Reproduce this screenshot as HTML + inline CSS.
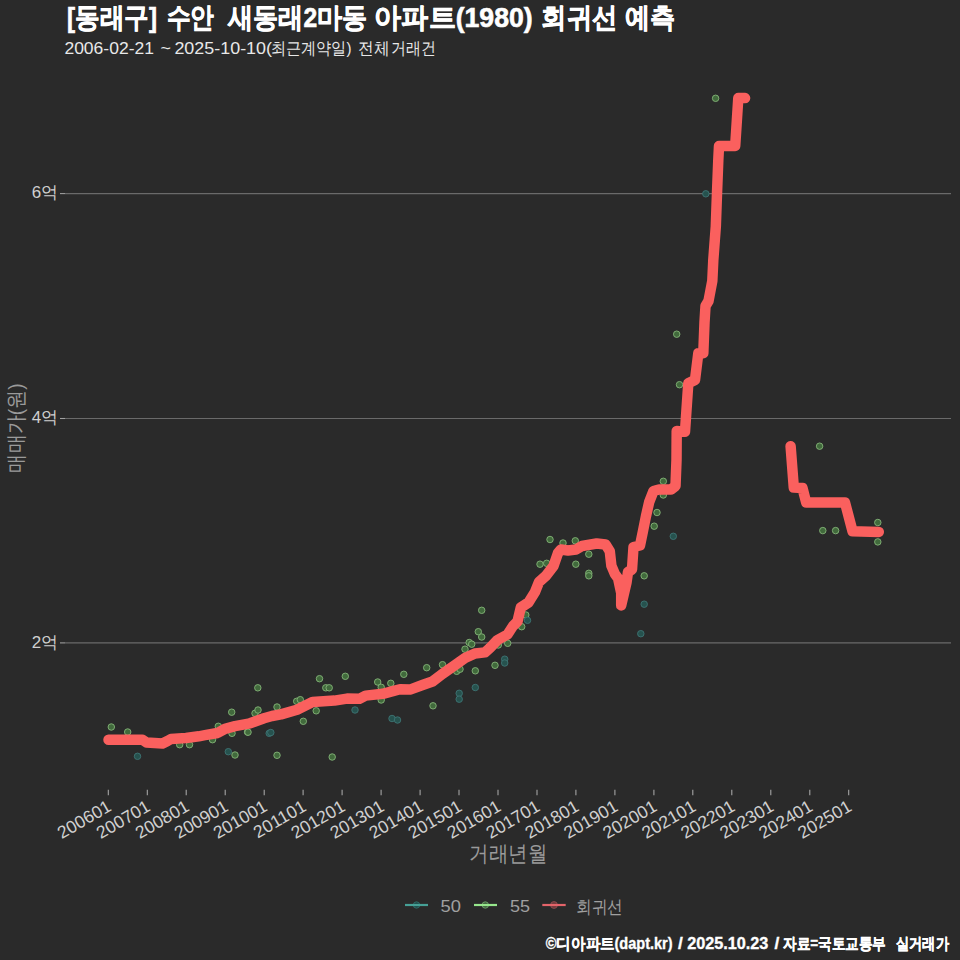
<!DOCTYPE html>
<html><head><meta charset="utf-8"><style>
html,body{margin:0;padding:0;background:#2a2a2a;width:960px;height:960px;overflow:hidden}
svg text{font-family:"Liberation Sans",sans-serif}
</style></head><body>
<svg width="960" height="960" viewBox="0 0 960 960" style="position:absolute;left:0;top:0">
<line x1="65" y1="193.60" x2="951" y2="193.60" stroke="#6a6a6a" stroke-width="1.07"/>
<line x1="60" y1="193.60" x2="65" y2="193.60" stroke="#a0a0a0" stroke-width="1.07"/>
<line x1="65" y1="418.50" x2="951" y2="418.50" stroke="#6a6a6a" stroke-width="1.07"/>
<line x1="60" y1="418.50" x2="65" y2="418.50" stroke="#a0a0a0" stroke-width="1.07"/>
<line x1="65" y1="642.90" x2="951" y2="642.90" stroke="#6a6a6a" stroke-width="1.07"/>
<line x1="60" y1="642.90" x2="65" y2="642.90" stroke="#a0a0a0" stroke-width="1.07"/>
<line x1="108.3" y1="789.7" x2="108.3" y2="795.2" stroke="#a8a8a8" stroke-width="1.07"/>
<line x1="147.3" y1="789.7" x2="147.3" y2="795.2" stroke="#a8a8a8" stroke-width="1.07"/>
<line x1="186.2" y1="789.7" x2="186.2" y2="795.2" stroke="#a8a8a8" stroke-width="1.07"/>
<line x1="225.2" y1="789.7" x2="225.2" y2="795.2" stroke="#a8a8a8" stroke-width="1.07"/>
<line x1="264.2" y1="789.7" x2="264.2" y2="795.2" stroke="#a8a8a8" stroke-width="1.07"/>
<line x1="303.1" y1="789.7" x2="303.1" y2="795.2" stroke="#a8a8a8" stroke-width="1.07"/>
<line x1="342.1" y1="789.7" x2="342.1" y2="795.2" stroke="#a8a8a8" stroke-width="1.07"/>
<line x1="381.1" y1="789.7" x2="381.1" y2="795.2" stroke="#a8a8a8" stroke-width="1.07"/>
<line x1="420.1" y1="789.7" x2="420.1" y2="795.2" stroke="#a8a8a8" stroke-width="1.07"/>
<line x1="459.0" y1="789.7" x2="459.0" y2="795.2" stroke="#a8a8a8" stroke-width="1.07"/>
<line x1="498.0" y1="789.7" x2="498.0" y2="795.2" stroke="#a8a8a8" stroke-width="1.07"/>
<line x1="537.0" y1="789.7" x2="537.0" y2="795.2" stroke="#a8a8a8" stroke-width="1.07"/>
<line x1="575.9" y1="789.7" x2="575.9" y2="795.2" stroke="#a8a8a8" stroke-width="1.07"/>
<line x1="614.9" y1="789.7" x2="614.9" y2="795.2" stroke="#a8a8a8" stroke-width="1.07"/>
<line x1="653.9" y1="789.7" x2="653.9" y2="795.2" stroke="#a8a8a8" stroke-width="1.07"/>
<line x1="692.8" y1="789.7" x2="692.8" y2="795.2" stroke="#a8a8a8" stroke-width="1.07"/>
<line x1="731.8" y1="789.7" x2="731.8" y2="795.2" stroke="#a8a8a8" stroke-width="1.07"/>
<line x1="770.8" y1="789.7" x2="770.8" y2="795.2" stroke="#a8a8a8" stroke-width="1.07"/>
<line x1="809.8" y1="789.7" x2="809.8" y2="795.2" stroke="#a8a8a8" stroke-width="1.07"/>
<line x1="848.7" y1="789.7" x2="848.7" y2="795.2" stroke="#a8a8a8" stroke-width="1.07"/>
<circle cx="111.3" cy="727.0" r="3.25" fill="#416a3c" stroke="#84b478" stroke-width="0.9"/>
<circle cx="127.7" cy="732.0" r="3.25" fill="#416a3c" stroke="#84b478" stroke-width="0.9"/>
<circle cx="137.5" cy="756.3" r="3.25" fill="#26524e" stroke="#3e7474" stroke-width="0.9"/>
<circle cx="179.7" cy="744.7" r="3.25" fill="#416a3c" stroke="#84b478" stroke-width="0.9"/>
<circle cx="189.5" cy="744.7" r="3.25" fill="#416a3c" stroke="#84b478" stroke-width="0.9"/>
<circle cx="212.5" cy="739.7" r="3.25" fill="#416a3c" stroke="#84b478" stroke-width="0.9"/>
<circle cx="218.3" cy="726.3" r="3.25" fill="#416a3c" stroke="#84b478" stroke-width="0.9"/>
<circle cx="231.7" cy="712.2" r="3.25" fill="#416a3c" stroke="#84b478" stroke-width="0.9"/>
<circle cx="232.0" cy="733.3" r="3.25" fill="#416a3c" stroke="#84b478" stroke-width="0.9"/>
<circle cx="228.3" cy="751.7" r="3.25" fill="#26524e" stroke="#3e7474" stroke-width="0.9"/>
<circle cx="235.0" cy="755.0" r="3.25" fill="#416a3c" stroke="#84b478" stroke-width="0.9"/>
<circle cx="247.5" cy="732.0" r="3.25" fill="#416a3c" stroke="#84b478" stroke-width="0.9"/>
<circle cx="257.8" cy="687.8" r="3.25" fill="#416a3c" stroke="#84b478" stroke-width="0.9"/>
<circle cx="248.0" cy="732.2" r="3.25" fill="#416a3c" stroke="#84b478" stroke-width="0.9"/>
<circle cx="255.0" cy="713.3" r="3.25" fill="#416a3c" stroke="#84b478" stroke-width="0.9"/>
<circle cx="258.0" cy="710.0" r="3.25" fill="#416a3c" stroke="#84b478" stroke-width="0.9"/>
<circle cx="269.2" cy="733.3" r="3.25" fill="#26524e" stroke="#3e7474" stroke-width="0.9"/>
<circle cx="270.8" cy="732.5" r="3.25" fill="#26524e" stroke="#3e7474" stroke-width="0.9"/>
<circle cx="277.0" cy="707.0" r="3.25" fill="#416a3c" stroke="#84b478" stroke-width="0.9"/>
<circle cx="277.0" cy="755.3" r="3.25" fill="#416a3c" stroke="#84b478" stroke-width="0.9"/>
<circle cx="296.7" cy="701.3" r="3.25" fill="#416a3c" stroke="#84b478" stroke-width="0.9"/>
<circle cx="300.3" cy="699.7" r="3.25" fill="#416a3c" stroke="#84b478" stroke-width="0.9"/>
<circle cx="303.3" cy="721.3" r="3.25" fill="#416a3c" stroke="#84b478" stroke-width="0.9"/>
<circle cx="316.2" cy="710.8" r="3.25" fill="#416a3c" stroke="#84b478" stroke-width="0.9"/>
<circle cx="319.5" cy="678.7" r="3.25" fill="#416a3c" stroke="#84b478" stroke-width="0.9"/>
<circle cx="325.8" cy="687.8" r="3.25" fill="#416a3c" stroke="#84b478" stroke-width="0.9"/>
<circle cx="329.2" cy="687.8" r="3.25" fill="#416a3c" stroke="#84b478" stroke-width="0.9"/>
<circle cx="332.2" cy="757.0" r="3.25" fill="#416a3c" stroke="#84b478" stroke-width="0.9"/>
<circle cx="345.3" cy="676.3" r="3.25" fill="#416a3c" stroke="#84b478" stroke-width="0.9"/>
<circle cx="355.0" cy="710.0" r="3.25" fill="#26524e" stroke="#3e7474" stroke-width="0.9"/>
<circle cx="377.7" cy="682.0" r="3.25" fill="#416a3c" stroke="#84b478" stroke-width="0.9"/>
<circle cx="381.2" cy="687.3" r="3.25" fill="#416a3c" stroke="#84b478" stroke-width="0.9"/>
<circle cx="381.2" cy="700.0" r="3.25" fill="#416a3c" stroke="#84b478" stroke-width="0.9"/>
<circle cx="390.8" cy="683.3" r="3.25" fill="#416a3c" stroke="#84b478" stroke-width="0.9"/>
<circle cx="392.0" cy="718.5" r="3.25" fill="#26524e" stroke="#3e7474" stroke-width="0.9"/>
<circle cx="397.5" cy="720.0" r="3.25" fill="#26524e" stroke="#3e7474" stroke-width="0.9"/>
<circle cx="403.8" cy="674.3" r="3.25" fill="#416a3c" stroke="#84b478" stroke-width="0.9"/>
<circle cx="426.7" cy="667.7" r="3.25" fill="#416a3c" stroke="#84b478" stroke-width="0.9"/>
<circle cx="433.0" cy="705.8" r="3.25" fill="#416a3c" stroke="#84b478" stroke-width="0.9"/>
<circle cx="442.5" cy="664.7" r="3.25" fill="#416a3c" stroke="#84b478" stroke-width="0.9"/>
<circle cx="456.7" cy="671.3" r="3.25" fill="#416a3c" stroke="#84b478" stroke-width="0.9"/>
<circle cx="460.0" cy="669.2" r="3.25" fill="#416a3c" stroke="#84b478" stroke-width="0.9"/>
<circle cx="459.2" cy="693.3" r="3.25" fill="#26524e" stroke="#3e7474" stroke-width="0.9"/>
<circle cx="459.2" cy="699.2" r="3.25" fill="#26524e" stroke="#3e7474" stroke-width="0.9"/>
<circle cx="465.0" cy="649.2" r="3.25" fill="#416a3c" stroke="#84b478" stroke-width="0.9"/>
<circle cx="469.2" cy="642.5" r="3.25" fill="#416a3c" stroke="#84b478" stroke-width="0.9"/>
<circle cx="471.7" cy="644.2" r="3.25" fill="#416a3c" stroke="#84b478" stroke-width="0.9"/>
<circle cx="475.3" cy="670.8" r="3.25" fill="#416a3c" stroke="#84b478" stroke-width="0.9"/>
<circle cx="475.3" cy="687.5" r="3.25" fill="#26524e" stroke="#3e7474" stroke-width="0.9"/>
<circle cx="478.3" cy="631.7" r="3.25" fill="#416a3c" stroke="#84b478" stroke-width="0.9"/>
<circle cx="481.7" cy="637.0" r="3.25" fill="#416a3c" stroke="#84b478" stroke-width="0.9"/>
<circle cx="481.7" cy="610.3" r="3.25" fill="#416a3c" stroke="#84b478" stroke-width="0.9"/>
<circle cx="495.0" cy="665.3" r="3.25" fill="#416a3c" stroke="#84b478" stroke-width="0.9"/>
<circle cx="498.3" cy="645.0" r="3.25" fill="#416a3c" stroke="#84b478" stroke-width="0.9"/>
<circle cx="504.7" cy="659.2" r="3.25" fill="#26524e" stroke="#3e7474" stroke-width="0.9"/>
<circle cx="504.7" cy="663.0" r="3.25" fill="#26524e" stroke="#3e7474" stroke-width="0.9"/>
<circle cx="507.7" cy="643.3" r="3.25" fill="#416a3c" stroke="#84b478" stroke-width="0.9"/>
<circle cx="521.7" cy="626.7" r="3.25" fill="#416a3c" stroke="#84b478" stroke-width="0.9"/>
<circle cx="525.8" cy="615.0" r="3.25" fill="#416a3c" stroke="#84b478" stroke-width="0.9"/>
<circle cx="527.5" cy="620.3" r="3.25" fill="#26524e" stroke="#3e7474" stroke-width="0.9"/>
<circle cx="540.0" cy="564.2" r="3.25" fill="#416a3c" stroke="#84b478" stroke-width="0.9"/>
<circle cx="546.7" cy="563.3" r="3.25" fill="#416a3c" stroke="#84b478" stroke-width="0.9"/>
<circle cx="550.0" cy="539.5" r="3.25" fill="#416a3c" stroke="#84b478" stroke-width="0.9"/>
<circle cx="563.0" cy="543.0" r="3.25" fill="#416a3c" stroke="#84b478" stroke-width="0.9"/>
<circle cx="575.3" cy="540.8" r="3.25" fill="#416a3c" stroke="#84b478" stroke-width="0.9"/>
<circle cx="575.8" cy="564.2" r="3.25" fill="#416a3c" stroke="#84b478" stroke-width="0.9"/>
<circle cx="588.8" cy="554.2" r="3.25" fill="#416a3c" stroke="#84b478" stroke-width="0.9"/>
<circle cx="588.8" cy="573.3" r="3.25" fill="#416a3c" stroke="#84b478" stroke-width="0.9"/>
<circle cx="588.8" cy="575.8" r="3.25" fill="#416a3c" stroke="#84b478" stroke-width="0.9"/>
<circle cx="644.2" cy="575.8" r="3.25" fill="#416a3c" stroke="#84b478" stroke-width="0.9"/>
<circle cx="644.2" cy="604.2" r="3.25" fill="#26524e" stroke="#3e7474" stroke-width="0.9"/>
<circle cx="640.8" cy="633.7" r="3.25" fill="#26524e" stroke="#3e7474" stroke-width="0.9"/>
<circle cx="673.3" cy="536.3" r="3.25" fill="#26524e" stroke="#3e7474" stroke-width="0.9"/>
<circle cx="657.0" cy="512.5" r="3.25" fill="#416a3c" stroke="#84b478" stroke-width="0.9"/>
<circle cx="654.2" cy="526.2" r="3.25" fill="#416a3c" stroke="#84b478" stroke-width="0.9"/>
<circle cx="663.3" cy="481.3" r="3.25" fill="#416a3c" stroke="#84b478" stroke-width="0.9"/>
<circle cx="663.3" cy="495.0" r="3.25" fill="#416a3c" stroke="#84b478" stroke-width="0.9"/>
<circle cx="676.7" cy="334.2" r="3.25" fill="#416a3c" stroke="#84b478" stroke-width="0.9"/>
<circle cx="679.5" cy="384.7" r="3.25" fill="#416a3c" stroke="#84b478" stroke-width="0.9"/>
<circle cx="705.8" cy="193.8" r="3.25" fill="#26524e" stroke="#3e7474" stroke-width="0.9"/>
<circle cx="715.6" cy="98.3" r="3.25" fill="#416a3c" stroke="#84b478" stroke-width="0.9"/>
<circle cx="819.6" cy="446.2" r="3.25" fill="#416a3c" stroke="#84b478" stroke-width="0.9"/>
<circle cx="822.8" cy="530.6" r="3.25" fill="#416a3c" stroke="#84b478" stroke-width="0.9"/>
<circle cx="835.6" cy="530.6" r="3.25" fill="#416a3c" stroke="#84b478" stroke-width="0.9"/>
<circle cx="877.8" cy="522.5" r="3.25" fill="#416a3c" stroke="#84b478" stroke-width="0.9"/>
<circle cx="877.8" cy="541.9" r="3.25" fill="#416a3c" stroke="#84b478" stroke-width="0.9"/>
<path d="M108.5 739.7 L142.5 739.7 L146.5 742.5 L162.5 743.5 L167.5 741.0 L171.0 739.0 L186.0 738.0 L198.8 736.3 L205.0 735.2 L217.5 733.0 L225.0 728.8 L235.0 726.2 L250.0 723.3 L264.0 718.3 L272.0 716.0 L281.0 714.4 L297.0 709.7 L312.5 702.0 L334.4 700.6 L347.0 698.6 L359.4 698.8 L365.6 695.6 L382.8 693.8 L391.0 691.7 L400.0 689.2 L410.0 689.6 L422.5 685.0 L432.5 681.5 L442.5 673.8 L455.0 665.2 L465.0 658.0 L475.0 653.5 L485.0 652.4 L490.0 647.8 L497.5 640.0 L507.5 634.5 L513.0 626.0 L517.5 621.5 L520.8 607.5 L528.5 602.5 L535.0 592.0 L539.0 582.0 L546.0 575.8 L553.5 566.0 L558.0 553.0 L561.0 549.5 L568.0 550.5 L576.0 549.5 L582.0 546.0 L596.7 543.5 L605.6 544.5 L609.8 551.3 L611.4 565.8 L615.0 574.2 L618.1 578.3 L621.2 593.0 L621.2 605.4 L626.5 582.5 L628.0 572.0 L632.0 569.5 L633.5 547.0 L640.0 545.5 L643.0 531.0 L646.0 516.0 L649.2 502.0 L653.5 491.0 L659.0 489.5 L671.0 489.5 L675.5 486.0 L676.5 460.0 L676.7 431.0 L685.0 431.7 L688.3 383.3 L695.0 380.0 L698.3 353.3 L703.3 353.3 L704.5 322.5 L705.5 306.0 L708.5 301.0 L712.3 281.0 L713.3 260.0 L715.8 226.7 L717.0 193.3 L718.3 160.0 L719.0 146.0 L735.2 146.0 L738.3 98.1 L745.1 98.1" fill="none" stroke="#fa605e" stroke-width="10.5" stroke-linecap="round" stroke-linejoin="round"/>
<path d="M790.6 446.2 L793.8 487.5 L802.5 488.1 L806.2 502.5 L845.0 502.5 L852.5 531.2 L878.8 531.9" fill="none" stroke="#fa605e" stroke-width="10.5" stroke-linecap="round" stroke-linejoin="round"/>
<text id="yl0" x="58.2" y="192.7" text-anchor="end" fill="#d0d0d0" font-size="17" dominant-baseline="central">6억</text>
<text id="yl1" x="58.2" y="417.3" text-anchor="end" fill="#d0d0d0" font-size="17" dominant-baseline="central">4억</text>
<text id="yl2" x="58.2" y="642.0" text-anchor="end" fill="#d0d0d0" font-size="17" dominant-baseline="central">2억</text>
<text id="xl0" transform="translate(106.00,798.50) rotate(-30)" text-anchor="end" fill="#d0d0d0" font-size="17.60" dy="0.75em">200601</text>
<text id="xl1" transform="translate(144.97,798.50) rotate(-30)" text-anchor="end" fill="#d0d0d0" font-size="17.60" dy="0.75em">200701</text>
<text id="xl2" transform="translate(183.94,798.50) rotate(-30)" text-anchor="end" fill="#d0d0d0" font-size="17.60" dy="0.75em">200801</text>
<text id="xl3" transform="translate(222.91,798.50) rotate(-30)" text-anchor="end" fill="#d0d0d0" font-size="17.60" dy="0.75em">200901</text>
<text id="xl4" transform="translate(261.88,798.50) rotate(-30)" text-anchor="end" fill="#d0d0d0" font-size="17.60" dy="0.75em">201001</text>
<text id="xl5" transform="translate(300.85,798.50) rotate(-30)" text-anchor="end" fill="#d0d0d0" font-size="17.60" dy="0.75em">201101</text>
<text id="xl6" transform="translate(339.82,798.50) rotate(-30)" text-anchor="end" fill="#d0d0d0" font-size="17.60" dy="0.75em">201201</text>
<text id="xl7" transform="translate(378.79,798.50) rotate(-30)" text-anchor="end" fill="#d0d0d0" font-size="17.60" dy="0.75em">201301</text>
<text id="xl8" transform="translate(417.76,798.50) rotate(-30)" text-anchor="end" fill="#d0d0d0" font-size="17.60" dy="0.75em">201401</text>
<text id="xl9" transform="translate(456.73,798.50) rotate(-30)" text-anchor="end" fill="#d0d0d0" font-size="17.60" dy="0.75em">201501</text>
<text id="xl10" transform="translate(495.70,798.50) rotate(-30)" text-anchor="end" fill="#d0d0d0" font-size="17.60" dy="0.75em">201601</text>
<text id="xl11" transform="translate(534.67,798.50) rotate(-30)" text-anchor="end" fill="#d0d0d0" font-size="17.60" dy="0.75em">201701</text>
<text id="xl12" transform="translate(573.64,798.50) rotate(-30)" text-anchor="end" fill="#d0d0d0" font-size="17.60" dy="0.75em">201801</text>
<text id="xl13" transform="translate(612.61,798.50) rotate(-30)" text-anchor="end" fill="#d0d0d0" font-size="17.60" dy="0.75em">201901</text>
<text id="xl14" transform="translate(651.58,798.50) rotate(-30)" text-anchor="end" fill="#d0d0d0" font-size="17.60" dy="0.75em">202001</text>
<text id="xl15" transform="translate(690.55,798.50) rotate(-30)" text-anchor="end" fill="#d0d0d0" font-size="17.60" dy="0.75em">202101</text>
<text id="xl16" transform="translate(729.52,798.50) rotate(-30)" text-anchor="end" fill="#d0d0d0" font-size="17.60" dy="0.75em">202201</text>
<text id="xl17" transform="translate(768.49,798.50) rotate(-30)" text-anchor="end" fill="#d0d0d0" font-size="17.60" dy="0.75em">202301</text>
<text id="xl18" transform="translate(807.46,798.50) rotate(-30)" text-anchor="end" fill="#d0d0d0" font-size="17.60" dy="0.75em">202401</text>
<text id="xl19" transform="translate(846.43,798.50) rotate(-30)" text-anchor="end" fill="#d0d0d0" font-size="17.60" dy="0.75em">202501</text>
<text id="t1" x="67.0" y="26.8" font-size="27.50" textLength="90.0" lengthAdjust="spacingAndGlyphs" fill="#ffffff" font-weight="bold" stroke="#ffffff" stroke-width="0.6">[동래구]</text>
<text id="t2" x="166.8" y="26.8" font-size="27.50" textLength="47.4" lengthAdjust="spacingAndGlyphs" fill="#ffffff" font-weight="bold" stroke="#ffffff" stroke-width="0.6">수안</text>
<text id="t3" x="228.2" y="26.8" font-size="27.50" textLength="139.4" lengthAdjust="spacingAndGlyphs" fill="#ffffff" font-weight="bold" stroke="#ffffff" stroke-width="0.6">새동래2마동</text>
<text id="t4" x="374.4" y="26.8" font-size="27.50" textLength="158.2" lengthAdjust="spacingAndGlyphs" fill="#ffffff" font-weight="bold" stroke="#ffffff" stroke-width="0.6">아파트(1980)</text>
<text id="t5" x="541.2" y="26.8" font-size="27.50" textLength="76.0" lengthAdjust="spacingAndGlyphs" fill="#ffffff" font-weight="bold" stroke="#ffffff" stroke-width="0.6">회귀선</text>
<text id="t6" x="624.8" y="26.8" font-size="27.50" textLength="50.2" lengthAdjust="spacingAndGlyphs" fill="#ffffff" font-weight="bold" stroke="#ffffff" stroke-width="0.6">예측</text>
<text id="s1" x="64.4" y="53.5" font-size="17.00" textLength="89.6" lengthAdjust="spacingAndGlyphs" fill="#e8e8e8" >2006-02-21</text>
<text id="s2" x="160.6" y="53.5" font-size="17.00" textLength="10.4" lengthAdjust="spacingAndGlyphs" fill="#e8e8e8" >~</text>
<text id="s3" x="174.4" y="53.5" font-size="17.00" textLength="97.6" lengthAdjust="spacingAndGlyphs" fill="#e8e8e8" >2025-10-10(</text>
<text id="s4" x="271.0" y="53.5" font-size="17.00" textLength="80.6" lengthAdjust="spacingAndGlyphs" fill="#e8e8e8" >최근계약일)</text>
<text id="s5" x="358.2" y="53.5" font-size="17.00" textLength="31.4" lengthAdjust="spacingAndGlyphs" fill="#e8e8e8" >전체</text>
<text id="s6" x="391.4" y="53.5" font-size="17.00" textLength="44.8" lengthAdjust="spacingAndGlyphs" fill="#e8e8e8" >거래건</text>
<text id="c1" x="545.8" y="948.5" font-size="16.00" textLength="126.8" lengthAdjust="spacingAndGlyphs" fill="#ffffff" font-weight="bold" stroke="#ffffff" stroke-width="0.35">©디아파트(dapt.kr)</text>
<text id="c2" x="678.0" y="948.5" font-size="16.00" textLength="4.8" lengthAdjust="spacingAndGlyphs" fill="#ffffff" font-weight="bold" stroke="#ffffff" stroke-width="0.35">/</text>
<text id="c3" x="687.2" y="948.5" font-size="16.00" textLength="81.2" lengthAdjust="spacingAndGlyphs" fill="#ffffff" font-weight="bold" stroke="#ffffff" stroke-width="0.35">2025.10.23</text>
<text id="c4" x="774.6" y="948.5" font-size="16.00" textLength="4.8" lengthAdjust="spacingAndGlyphs" fill="#ffffff" font-weight="bold" stroke="#ffffff" stroke-width="0.35">/</text>
<text id="c5" x="783.0" y="948.5" font-size="16.00" textLength="103.0" lengthAdjust="spacingAndGlyphs" fill="#ffffff" font-weight="bold" stroke="#ffffff" stroke-width="0.35">자료=국토교통부</text>
<text id="c6" x="896.2" y="948.5" font-size="16.00" textLength="52.6" lengthAdjust="spacingAndGlyphs" fill="#ffffff" font-weight="bold" stroke="#ffffff" stroke-width="0.35">실거래가</text>
<text id="xtitle" x="469.0" y="861.0" font-size="22.00" textLength="78.0" lengthAdjust="spacingAndGlyphs" fill="#9a9a9a" >거래년월</text>
<text id="lg50" x="440.6" y="912.3" font-size="16.50" textLength="20.4" lengthAdjust="spacingAndGlyphs" fill="#a0a0a0" >50</text>
<text id="lg55" x="510.0" y="912.3" font-size="16.50" textLength="20.0" lengthAdjust="spacingAndGlyphs" fill="#a0a0a0" >55</text>
<text id="lgreg" x="576.0" y="912.5" font-size="18.00" textLength="47.0" lengthAdjust="spacingAndGlyphs" fill="#a0a0a0" >회귀선</text>
<text id="ytitle" transform="translate(23,428) rotate(-90)" text-anchor="middle" fill="#9a9a9a" font-size="21" textLength="89" lengthAdjust="spacingAndGlyphs">매매가(원)</text>
<circle cx="416.5" cy="905" r="3.2" fill="#204a48" stroke="#2f6a66" stroke-width="1"/><line x1="405" y1="905" x2="428" y2="905" stroke="#46a096" stroke-width="2.2"/>
<circle cx="485.3" cy="905" r="3.2" fill="#3c5a3a" stroke="#6a9a66" stroke-width="1"/><line x1="474" y1="905" x2="497" y2="905" stroke="#96e68c" stroke-width="2.2"/>
<circle cx="554" cy="905" r="3.4" fill="#6a3a3c" stroke="#8a4a4c" stroke-width="1"/><line x1="542.3" y1="905" x2="565.7" y2="905" stroke="#e4646a" stroke-width="2.2"/>
</svg>
</body></html>
